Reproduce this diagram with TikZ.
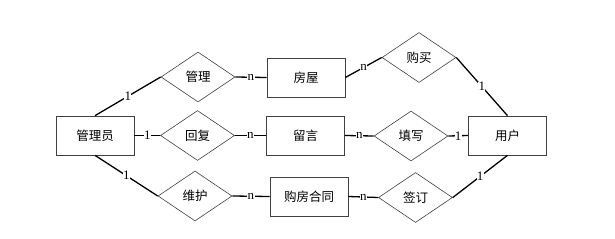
\documentclass[tikz,border=0pt]{standalone}
\usepackage{fontspec}
\setmainfont{Liberation Serif}
\newfontfamily\cjk{Noto Sans CJK SC}
\usetikzlibrary{shapes.geometric}
\begin{document}
\begin{tikzpicture}[x=1pt,y=-1pt,
  ent/.style={draw=black!75,line width=0.7pt,minimum width=78pt,minimum height=39pt,inner sep=0pt,font=\cjk\fontsize{12.5}{14}\selectfont},
  rel/.style={diamond,draw=black!75,line width=0.6pt,minimum width=74pt,minimum height=50pt,aspect=1.48,inner sep=0pt,font=\cjk\fontsize{12.5}{14}\selectfont},
  conn/.style={line width=1.3pt,black},
  card/.style={fill=white,inner sep=0.3pt,font=\fontsize{13}{14}\selectfont}]
\useasboundingbox (0,0) rectangle (615,238);
\node[ent] (gly) at (95,135.5) {管理员};
\node[ent] (yh) at (507.5,135.5) {用户};
\node[ent] (fw) at (306,77.5) {房屋};
\node[ent] (ly) at (305.5,135.5) {留言};
\node[ent] (ht) at (309,196.5) {购房合同};
\node[rel] (gl) at (198,77) {管理};
\node[rel] (gm) at (419,57.5) {购买};
\node[rel] (hf) at (197.5,135.5) {回复};
\node[rel] (tx) at (411,136) {填写};
\node[rel] (wh) at (195,196) {维护};
\node[rel] (qd) at (415.5,197.5) {签订};
\draw[conn] (gly.north) -- node[card] {1} (gl.west);
\draw[conn] (gl.east) -- node[card] {n} (fw.west);
\draw[conn] (fw.east) -- node[card] {n} (gm.west);
\draw[conn] (gm.east) -- node[card] {1} (yh.north);
\draw[conn] (gly.east) -- node[card] {1} (hf.west);
\draw[conn] (hf.east) -- node[card] {n} (ly.west);
\draw[conn] (ly.east) -- node[card] {n} (tx.west);
\draw[conn] (tx.east) -- node[card] {1} (yh.west);
\draw[conn] (gly.south) -- node[card] {1} (wh.west);
\draw[conn] (wh.east) -- node[card] {n} (ht.west);
\draw[conn] (ht.east) -- node[card] {n} (qd.west);
\draw[conn] (qd.east) -- node[card] {1} (yh.south);
\end{tikzpicture}
\end{document}
